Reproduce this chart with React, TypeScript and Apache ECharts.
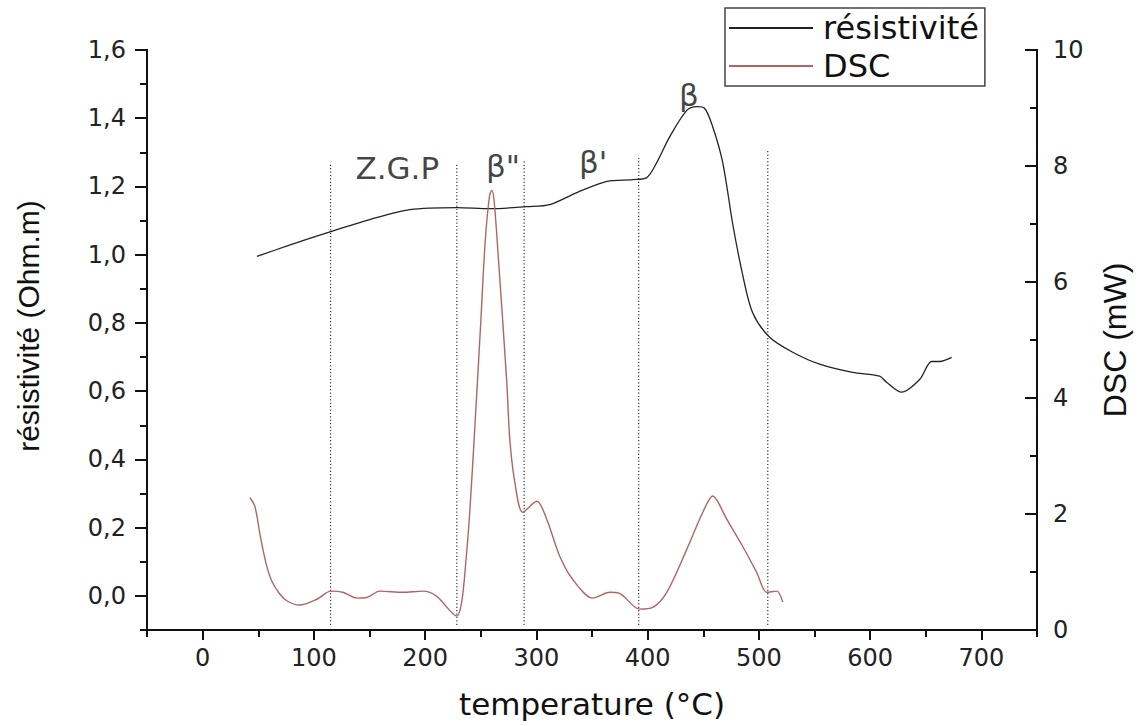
import React, { useEffect, useRef } from "react";
import * as echarts from "echarts";

// résistivité (Ohm.m) vs temperature (°C)
const resT = [48.8, 78, 114.4, 150.3, 186.3, 228.5, 258.2, 291.4, 312.1, 336.4, 363.4, 386.8, 399.2, 408.2, 419.9, 435.2, 444.2, 451, 458.5, 467.5, 476.5, 485.5, 494.4, 509.7, 530.4, 554.6, 584.2, 608.5, 614.8, 628.3, 644.5, 655.3, 662.5, 673.3];
const resV = [0.995, 1.028, 1.067, 1.103, 1.132, 1.138, 1.135, 1.141, 1.147, 1.182, 1.215, 1.22, 1.226, 1.27, 1.346, 1.423, 1.434, 1.43, 1.375, 1.27, 1.09, 0.94, 0.83, 0.758, 0.714, 0.679, 0.655, 0.644, 0.626, 0.597, 0.634, 0.687, 0.687, 0.699];

// DSC (mW) vs temperature (°C)
const dscT = [42.5, 47, 52, 57, 62, 69, 76, 87, 102.7, 115.3, 126.1, 138.6, 147.6, 159.3, 180, 198, 210.5, 228.5, 233, 236.5, 240, 245, 250, 254, 258, 260, 262, 265.3, 273.4, 276.1, 280.6, 287.8, 300.4, 309.3, 321, 332.7, 350.7, 366, 374.9, 392.9, 404.6, 417.2, 435.2, 449.6, 458.5, 471.1, 485.5, 498.1, 507.1, 516.1, 521.5];
const dscV = [2.28, 2.13, 1.6, 1.15, 0.85, 0.63, 0.5, 0.43, 0.53, 0.67, 0.65, 0.55, 0.56, 0.67, 0.65, 0.67, 0.58, 0.24, 0.5, 1.15, 2.0, 3.6, 5.3, 6.7, 7.5, 7.58, 7.4, 6.56, 4.27, 3.29, 2.55, 2.03, 2.22, 1.91, 1.27, 0.87, 0.55, 0.65, 0.63, 0.36, 0.39, 0.65, 1.39, 2.03, 2.31, 1.91, 1.44, 0.99, 0.65, 0.67, 0.48];

// phase boundaries (dotted verticals)
const phaseT = [115, 228.5, 289, 392, 508];
const phaseTop = [1.27, 1.27, 1.28, 1.29, 1.31];
const phaseBottom = -0.085;

// phase labels
const phaseNames = ["Z.G.P", "β\"", "β'", "β"];
const phaseLabelT = [175, 270, 351, 437];
const phaseLabelR = [1.255, 1.261, 1.273, 1.469];

// ticks
const xMajor = [0, 100, 200, 300, 400, 500, 600, 700];
const yLeftMajor = [0, 0.2, 0.4, 0.6, 0.8, 1.0, 1.2, 1.4, 1.6];
const yRightMajor = [0, 2, 4, 6, 8, 10];

const H_FONT = "DejaVu Sans";
const V_FONT = "Liberation Sans";

export default function App() {
  const ref = useRef<HTMLDivElement>(null);
  useEffect(() => {
    if (!ref.current) return;
    const chart = echarts.init(ref.current, null, { renderer: "svg" });
    const black = "#111";
    const axisLine = { show: true, onZero: false, lineStyle: { color: black, width: 2 } };
    const fmtLeft = (v: number) => v.toFixed(1).replace(".", ",");

    const dotted = phaseT.map((t, i) => ({
      type: "line",
      xAxisIndex: 0,
      yAxisIndex: 0,
      data: [
        [t, phaseBottom],
        [t, phaseTop[i]],
      ],
      symbol: "none",
      silent: true,
      lineStyle: { color: "#333", width: 1.2, type: [1.2, 2.2] },
      z: 1,
    }));

    chart.setOption({
      animation: false,
      backgroundColor: "#fff",
      grid: { left: 147, right: 107, top: 50, bottom: 96, containLabel: false },
      legend: {
        data: ["résistivité", "DSC"],
        orient: "vertical",
        left: 725,
        top: 8,
        icon: "rect",
        itemWidth: 84,
        itemHeight: 2,
        itemGap: 6,
        padding: [4, 6, 4, 4],
        borderColor: "#444",
        borderWidth: 1.5,
        textStyle: { fontFamily: H_FONT, fontSize: 32, color: black, padding: [0, 0, 0, 5] },
      },
      xAxis: [
        {
          type: "value",
          position: "bottom",
          min: -50,
          max: 750,
          interval: 50,
          axisLine,
          axisTick: { show: true, length: 7, lineStyle: { color: black, width: 2 } },
          axisLabel: { show: false },
          splitLine: { show: false },
        },
        {
          type: "value",
          position: "bottom",
          min: -50,
          max: 750,
          interval: 50,
          axisLine,
          axisTick: { show: true, length: 10, customValues: xMajor, lineStyle: { color: black, width: 2 } },
          axisLabel: {
            show: true,
            customValues: xMajor,
            margin: 16,
            fontFamily: H_FONT,
            fontSize: 24,
            color: "#222",
          },
          splitLine: { show: false },
          name: "temperature (°C)",
          nameLocation: "middle",
          nameGap: 58,
          nameTextStyle: { fontFamily: H_FONT, fontSize: 31, color: black },
        },
      ],
      yAxis: [
        {
          type: "value",
          position: "left",
          min: -0.1,
          max: 1.6,
          interval: 0.1,
          axisLine,
          axisTick: { show: true, length: 7, lineStyle: { color: black, width: 2 } },
          axisLabel: { show: false },
          splitLine: { show: false },
        },
        {
          type: "value",
          position: "right",
          min: 0,
          max: 10,
          interval: 1,
          axisLine,
          axisTick: { show: true, inside: true, length: 7, lineStyle: { color: black, width: 2 } },
          axisLabel: { show: false },
          splitLine: { show: false },
        },
        {
          type: "value",
          position: "left",
          min: -0.1,
          max: 1.6,
          interval: 0.1,
          axisLine,
          axisTick: { show: true, length: 12, customValues: yLeftMajor, lineStyle: { color: black, width: 2 } },
          axisLabel: {
            show: true,
            customValues: yLeftMajor,
            formatter: fmtLeft,
            margin: 21,
            fontFamily: H_FONT,
            fontSize: 24,
            color: "#222",
          },
          splitLine: { show: false },
          name: "résistivité (Ohm.m)",
          nameLocation: "middle",
          nameGap: 104,
          nameTextStyle: { fontFamily: V_FONT, fontSize: 30, color: black, padding: [0, 0, 0, 28] },
        },
        {
          type: "value",
          position: "right",
          min: 0,
          max: 10,
          interval: 1,
          axisLine,
          axisTick: { show: true, inside: true, length: 12, customValues: yRightMajor, lineStyle: { color: black, width: 2 } },
          axisLabel: {
            show: true,
            customValues: yRightMajor,
            margin: 16,
            fontFamily: H_FONT,
            fontSize: 24,
            color: "#222",
          },
          splitLine: { show: false },
          name: "DSC (mW)",
          nameLocation: "middle",
          nameGap: 62,
          nameTextStyle: { fontFamily: V_FONT, fontSize: 32, color: black },
        },
      ],
      series: [
        {
          name: "résistivité",
          type: "line",
          xAxisIndex: 0,
          yAxisIndex: 0,
          data: resT.map((t, i) => [t, resV[i]]),
          symbol: "none",
          smooth: 0.3,
          lineStyle: { color: "#222", width: 1.3 },
          itemStyle: { color: "#222" },
          z: 3,
        },
        {
          name: "DSC",
          type: "line",
          xAxisIndex: 0,
          yAxisIndex: 1,
          data: dscT.map((t, i) => [t, dscV[i]]),
          symbol: "none",
          smooth: 0.3,
          lineStyle: { color: "#b06565", width: 1.4 },
          itemStyle: { color: "#b06565" },
          z: 3,
        },
        ...dotted,
        {
          type: "scatter",
          xAxisIndex: 0,
          yAxisIndex: 0,
          symbolSize: 0,
          silent: true,
          data: phaseNames.map((n, i) => ({ name: n, value: [phaseLabelT[i], phaseLabelR[i]] })),
          label: {
            show: true,
            position: "inside",
            formatter: (p: any) => p.name,
            fontFamily: H_FONT,
            fontSize: 31,
            color: black,
          },
          z: 4,
        },
      ],
    });
    return () => chart.dispose();
  }, []);
  return <div ref={ref} style={{ width: 1144, height: 726, position: "absolute", left: 0, top: 0 }} />;
}
